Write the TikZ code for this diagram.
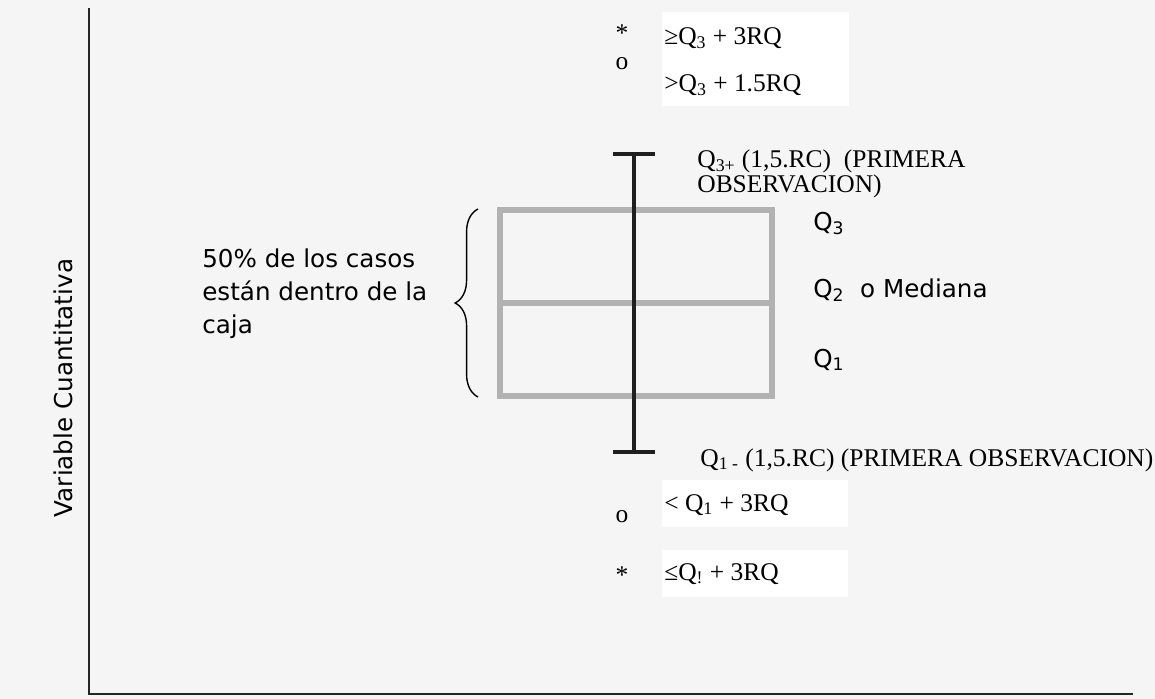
\documentclass[tikz,border=0pt]{standalone}
\usepackage{fontspec}
\usepackage{tikz}
\usetikzlibrary{decorations.pathreplacing}
\setmainfont{Liberation Serif}
\newfontfamily\tahoma{DejaVu Sans}

\begin{document}
\begin{tikzpicture}[x=0.02cm,y=-0.02cm,
    serif/.style={font=\fontsize{14.5}{17}\selectfont, inner sep=0pt},
    sans/.style={font=\tahoma\fontsize{14}{18.8}\selectfont, inner sep=0pt},
    blanco/.style={fill=white},
    caja/.style={draw=black!30, line width=3.2pt, minimum width=5.44cm, minimum height=3.72cm},
    bigote/.style={draw=black!88, line width=2.3pt},
    eje/.style={draw=black!85, line width=1.1pt}]
  \fill[black!4] (0,0) rectangle (1155,699);

  % Ejes
  \coordinate (ytop) at (89,8);
  \coordinate (origen) at (89,694);
  \coordinate (xfin) at (1133,694);
  \draw[eje] (ytop) -- (origen) -- (xfin);
  \node[sans, rotate=90, anchor=base] (ylabel) at (72,388) {Variable Cuantitativa};

  % Caja y mediana
  \node[caja] (caja) at (636,303) {};
  \draw[caja] (caja.west) -- (caja.east);

  % Bigotes
  \coordinate (wtop) at (634,154);
  \coordinate (wbot) at (634,452);
  \draw[bigote] (wtop) -- (wbot);
  \draw[bigote] (613,154) -- (655,154);
  \draw[bigote] (613,452) -- (655,452);

  % Llave
  \draw[black, line width=0.8pt, decorate, decoration={brace, amplitude=13pt}]
    (478,397) -- (478,209);
  \node[sans, align=left, anchor=north west] (cincuenta) at (202,248)
    {50\% de los casos\\están dentro de la\\caja};

  % Cuartiles
  \node[sans, anchor=base west] (q3) at (813,230) {Q\textsubscript{3}};
  \node[sans, anchor=base west] (q2) at (813,297) {Q\textsubscript{2}\ \ o Mediana};
  \node[sans, anchor=base west] (q1) at (813,367) {Q\textsubscript{1}};

  % Valores atipicos
  \fill[blanco] (662,12) rectangle (849,106);
  \fill[blanco] (662,480) rectangle (848,527);
  \fill[blanco] (662,550) rectangle (848,597);
  \node[serif] (astsup) at (622,33) {*};
  \node[serif, anchor=base] (osup) at (622,70) {o};
  \node[serif, anchor=base west] (extsup) at (664,45) {≥Q\textsubscript{3} + 3RQ};
  \node[serif, anchor=base west] (atsup) at (664,92) {>Q\textsubscript{3} + 1.5RQ};
  \node[serif, anchor=base west] (limsup) at (697,168) {Q\textsubscript{3+} (1,5.RC)\ \ (PRIMERA};
  \node[serif, anchor=base west] (limsup2) at (697,193) {OBSERVACION)};
  \node[serif, anchor=base west] (liminf) at (700,466) {Q\textsubscript{1 -} (1,5.RC) (PRIMERA OBSERVACION)};
  \node[serif, anchor=base] (oinf) at (622,522) {o};
  \node[serif] (astinf) at (622,575) {*};
  \node[serif, anchor=base west] (atinf) at (664,511) {< Q\textsubscript{1} + 3RQ};
  \node[serif, anchor=base west] (extinf) at (664,580) {≤Q\textsubscript{!} + 3RQ};
\end{tikzpicture}
\end{document}
